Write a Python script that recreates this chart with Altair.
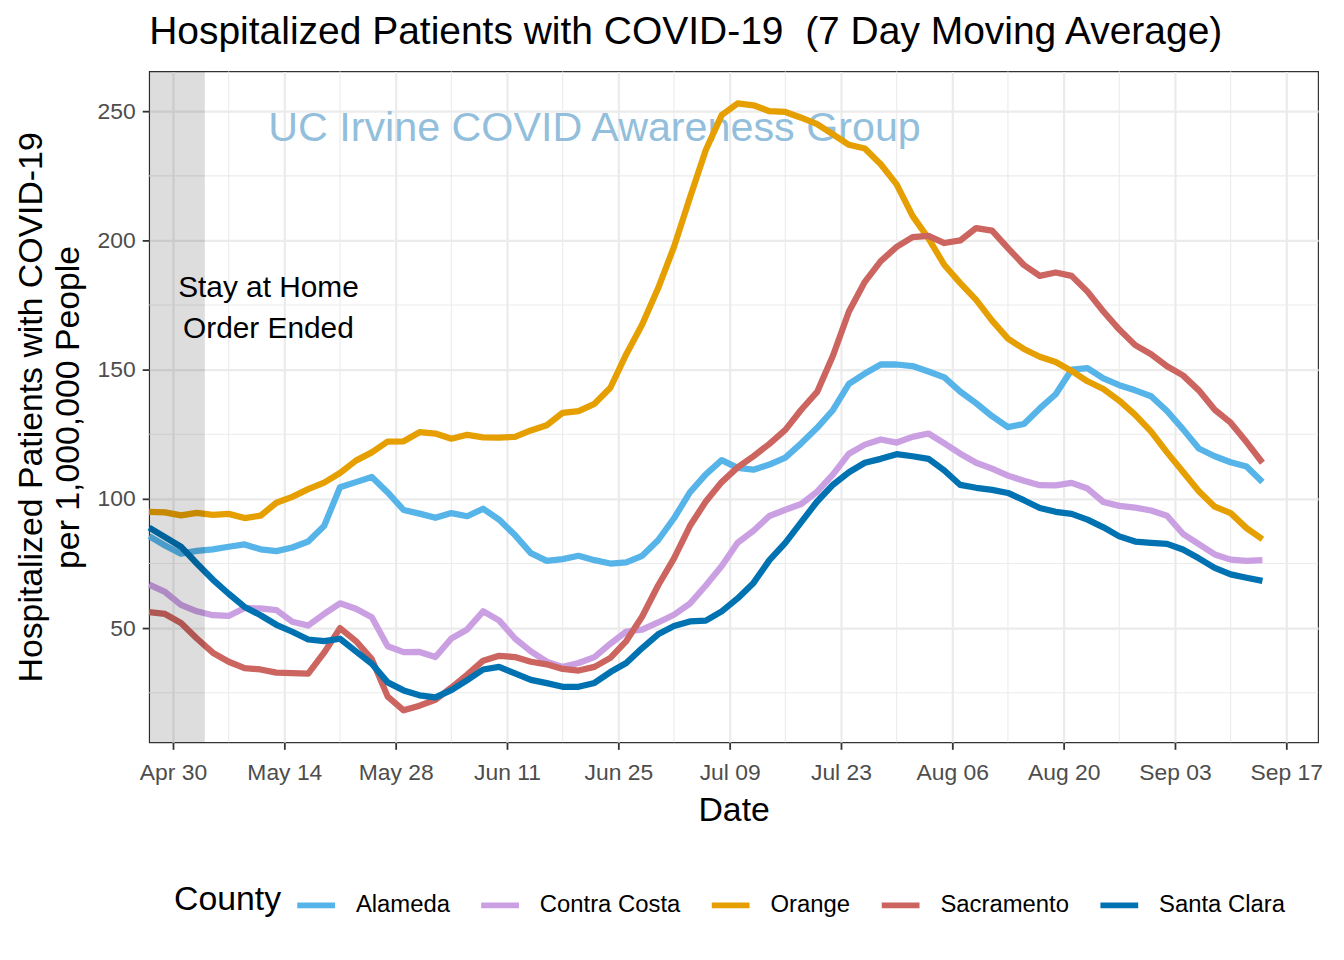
import altair as alt
import pandas as pd

# ---------------- data ----------------
counties = ["Alameda", "Contra Costa", "Orange", "Sacramento", "Santa Clara"]
colors = ["#56B4E9", "#CBA0E3", "#E69F00", "#CC6460", "#0072B2"]

# one value every 2 days, starting 2020-04-27 and ending 2020-09-14
dates = pd.date_range("2020-04-27", periods=71, freq="2D")

alameda = [85.6, 82, 78.8, 79.9, 80.5, 81.5, 82.4, 80.5, 79.8, 81.2, 83.5, 89.5, 104.5, 106.5, 108.5,
           102.5, 95.7, 94.3, 92.7, 94.5, 93.3, 96.2, 92, 86, 79, 76, 76.7, 78, 76.3, 75, 75.4, 78,
           84, 92.5, 102.5, 109.5, 115, 112, 111.3, 113.3, 116, 121.5, 127.5, 134.4, 144.5, 148.5,
           152, 152, 151.4, 149.3, 147, 141.5, 137, 132, 127.8, 129, 135, 140.5, 150, 150.6, 146.6,
           144, 142, 139.7, 134, 127, 119.5, 116.5, 114.2, 112.5, 106.5]
contra_costa = [66.8, 64, 59, 56.5, 55, 54.7, 57.8, 57.6, 57, 52.5, 51, 55.5, 59.6, 57.5, 54.2, 43,
                40.7, 40.8, 38.8, 46, 49.5, 56.5, 53, 46, 41, 37, 35, 36.5, 38.8, 44, 48.7, 49.4, 52.2,
                55.2, 59.5, 66.5, 74, 83, 87.7, 93.4, 95.8, 98, 102.8, 109.5, 117.5, 121, 123, 121.8,
                124, 125.3, 121.5, 117.5, 114, 111.7, 109, 107, 105.3, 105.2, 106.2, 104, 98.8, 97.3,
                96.6, 95.5, 93.5, 86.5, 82.5, 78.5, 76.5, 76, 76.3]
orange = [95, 94.8, 93.6, 94.6, 93.8, 94.2, 92.6, 93.5, 98.5, 100.8, 103.8, 106.3, 110, 114.8, 118,
          122.2, 122.3, 125.8, 125.3, 123.3, 124.8, 123.8, 123.7, 124, 126.5, 128.5, 133.3, 134,
          136.8, 143, 156, 167.5, 181.5, 197.5, 216.5, 235, 248.5, 253, 252.3, 250, 249.7, 247.5,
          245, 241, 237, 235.6, 229.5, 221.7, 209.5, 200.8, 190.5, 183.5, 177, 169, 162, 158, 155,
          153, 149.5, 145.5, 142.5, 138, 132.5, 126, 118, 110.5, 103, 97, 94.5, 88.7, 84.4]
sacramento = [56.2, 55.5, 52, 46, 40.5, 37, 34.5, 34, 32.8, 32.6, 32.4, 40.5, 50, 45, 38, 23.5, 18.2,
              20, 22.3, 27, 32, 37.4, 39.3, 38.8, 37, 36, 34.2, 33.6, 35, 38.5, 45, 54.5, 66.5, 77,
              89.5, 99, 106.5, 112.2, 116.5, 121.3, 126.7, 134.5, 141.4, 155.5, 172.5, 184, 192,
              197.5, 201.3, 201.8, 199, 200, 204.8, 203.8, 197, 190.5, 186.3, 187.6, 186.3, 180.2,
              172.5, 165.5, 159.5, 156, 151.3, 147.8, 142, 134.5, 129.5, 122, 114]
santa_clara = [88.9, 85.2, 81.5, 75, 68.8, 63.3, 58.2, 55, 51.3, 48.6, 45.6, 45, 45.9, 41, 36.2, 29,
               25.9, 24, 23.2, 26, 29.9, 34, 35, 32.5, 30, 28.7, 27.3, 27.3, 28.8, 33, 36.5, 42.3,
               47.6, 50.8, 52.6, 52.9, 56.5, 61.5, 67.5, 76.3, 83, 91, 99, 105.5, 110.3, 114, 115.5,
               117.3, 116.5, 115.5, 111, 105.4, 104.3, 103.5, 102.3, 99.5, 96.5, 95, 94.2, 92, 89,
               85.5, 83.5, 83, 82.6, 80.4, 77, 73.3, 70.8, 69.5, 68.3]

series = [alameda, contra_costa, orange, sacramento, santa_clara]

rows = []
for name, vals in zip(counties, series):
    for d, v in zip(dates, vals):
        rows.append({"date": d, "value": v, "County": name})
df = pd.DataFrame(rows)

# axis ticks / minor grid
major_x = [(4, 30), (5, 14), (5, 28), (6, 11), (6, 25), (7, 9), (7, 23), (8, 6), (8, 20), (9, 3), (9, 17)]
minor_x = ["2020-05-07", "2020-05-21", "2020-06-04", "2020-06-18", "2020-07-02", "2020-07-16",
           "2020-07-30", "2020-08-13", "2020-08-27", "2020-09-10"]
major_y = [50, 100, 150, 200, 250]
minor_y = [25, 75, 125, 175, 225]

band = pd.DataFrame({"date": [pd.Timestamp("2020-04-27")], "end": [pd.Timestamp("2020-05-04")]})
note = pd.DataFrame({"date": [pd.Timestamp("2020-05-12")], "value": [181.5],
                     "label": ["Stay at Home\nOrder Ended"]})
mark_txt = pd.DataFrame({"date": [pd.Timestamp("2020-06-22")], "value": [243.0],
                         "label": ["UC Irvine COVID Awareness Group"]})

# ---------------- scales / axes ----------------
x_scale = alt.Scale(domain=[alt.DateTime(year=2020, month=4, date=27),
                            alt.DateTime(year=2020, month=9, date=21)], nice=False)
y_scale = alt.Scale(domain=[5.8, 265.4], nice=False, zero=False)

x_axis = alt.Axis(title="Date",
                  values=[alt.DateTime(year=2020, month=m, date=d) for m, d in major_x],
                  format="%b %d", labelPadding=12, titlePadding=10)
y_axis = alt.Axis(title=["Hospitalized Patients with COVID-19", "per 1,000,000 People"],
                  values=major_y, labelPadding=7, titlePadding=12, titleLineHeight=37)

X = alt.X("date:T", scale=x_scale, axis=x_axis)
Y = alt.Y("value:Q", scale=y_scale, axis=y_axis)

grid_col = "#EBEBEB"

minor_x_layer = alt.Chart(pd.DataFrame({"date": pd.to_datetime(minor_x)})).mark_rule(
    color=grid_col, strokeWidth=1.1).encode(x=X)
minor_y_layer = alt.Chart(pd.DataFrame({"value": minor_y})).mark_rule(
    color=grid_col, strokeWidth=1.1).encode(y=Y)

watermark = alt.Chart(mark_txt).mark_text(
    fontSize=41.5, color="#93BFDC", align="center", baseline="middle").encode(
    x=X, y=Y, text="label:N")

lines = alt.Chart(df).mark_line(strokeWidth=6.3, strokeJoin="round", strokeCap="butt").encode(
    x=X, y=Y,
    color=alt.Color("County:N", scale=alt.Scale(domain=counties, range=colors),
                    legend=alt.Legend(orient="none", legendX=25, legendY=817,
                                      direction="horizontal", title="County",
                                      titleOrient="left",
                                      titleFontSize=34, titleFontWeight="normal",
                                      titleColor="black", titlePadding=13,
                                      titleBaseline="middle",
                                      labelFontSize=24, labelColor="black",
                                      symbolType="stroke", symbolSize=1444,
                                      symbolStrokeWidth=6, labelOffset=18,
                                      columnPadding=19, labelLimit=400)),
    order=alt.Order("date:T"),
)

shade = alt.Chart(band).mark_rect(color="black", opacity=0.135).encode(
    x=X, x2="end:T")

annot = alt.Chart(note).mark_text(
    fontSize=30, color="black", align="center", baseline="middle",
    lineBreak="\n", lineHeight=41).encode(x=X, y=Y, text="label:N")

chart = alt.layer(minor_x_layer, minor_y_layer, watermark, lines, shade, annot).properties(
    width=1176, height=675,
    padding={"left": 142, "top": 61, "right": 18, "bottom": 192},
    autosize=alt.AutoSizeParams(type="none"),
    title=alt.TitleParams(text="Hospitalized Patients with COVID-19\u00a0 (7 Day Moving Average)",
                          fontSize=39.2, fontWeight="normal", color="black",
                          anchor="start", frame="group", baseline="alphabetic",
                          offset=28, dy=40),
).configure(
    font="Liberation Sans",
).configure_view(
    stroke="#333333", strokeWidth=1.2,
).configure_axis(
    domain=False, grid=True, gridColor=grid_col, gridWidth=2.2,
    tickColor="#333333", tickWidth=1.8, tickSize=7,
    labelFontSize=23, labelColor="#4D4D4D", labelFont="Liberation Sans",
    titleFontSize=34, titleFontWeight="normal", titleColor="black", titleFont="Liberation Sans",
)

chart.save("out.html", embed_options={"renderer": "svg", "actions": False})
